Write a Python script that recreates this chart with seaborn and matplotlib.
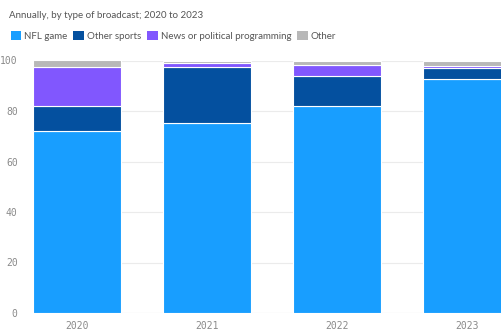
import numpy as np
import pandas as pd
import matplotlib
matplotlib.use("Agg")
import matplotlib.pyplot as plt
import seaborn as sns
from matplotlib.patches import Patch

years = ["2020", "2021", "2022", "2023"]
series = ["NFL game", "Other sports", "News or political programming", "Other"]
nfl_game = [72.0, 75.3, 82.0, 92.8]
other_sports = [10.0, 22.0, 12.0, 4.3]
news_political = [15.3, 1.8, 4.1, 0.8]
other = [2.7, 0.9, 1.9, 2.1]
colors = ["#189eff", "#04509f", "#8157fe", "#b8b8b8"]

sns.set_theme(style="white")
plt.rcParams["font.family"] = ["DejaVu Sans"]

fig = plt.figure(figsize=(5.01, 3.31), dpi=100)
ax = fig.add_axes([33 / 501, 18 / 331, 1 - 33 / 501, (313 - 60.5) / 331])

bottom = np.zeros(len(years))
for name, vals, col in zip(series, [nfl_game, other_sports, news_political, other], colors):
    df = pd.DataFrame({"year": years, "value": vals})
    sns.barplot(data=df, x="year", y="value", color=col, width=0.68,
                bottom=bottom.copy(), edgecolor="white", linewidth=0.8,
                saturation=1, ax=ax)
    bottom += np.array(vals)

ax.set_xlim(-0.34, 3.26)
ax.set_ylim(0, 100)
ax.set_yticks([0, 20, 40, 60, 80, 100])
ax.yaxis.grid(True, color="#ebebeb", linewidth=0.8)
ax.set_axisbelow(True)
for s in ax.spines.values():
    s.set_visible(False)
ax.set_xlabel("")
ax.set_ylabel("")
ax.tick_params(axis="x", length=4, color="#dddddd", width=0.8, pad=1.5,
               labelsize=7, labelcolor="#8a8a8a", labelfontfamily="DejaVu Sans Mono")
ax.tick_params(axis="y", length=0, pad=11, labelsize=7, labelcolor="#8a8a8a",
               labelfontfamily="DejaVu Sans Mono")
ax.axhline(0, color="#e6e6e6", linewidth=0.8, zorder=0)

fig.text(9 / 501, 1 - 15 / 331, "Annually, by type of broadcast; 2020 to 2023",
         fontsize=7, color="#555555", va="center", family="Lato")
handles = [Patch(facecolor=c, edgecolor="none") for c in colors]
fig.legend(handles, series, loc="center left", bbox_to_anchor=(2 / 501, 1 - 36 / 331),
           ncol=4, frameon=False, handlelength=1.1, handleheight=1.1,
           handletextpad=0.3, columnspacing=0.6, labelcolor="#555555",
           prop={"family": "Lato", "size": 7})

fig.savefig("out.png", dpi=100)
